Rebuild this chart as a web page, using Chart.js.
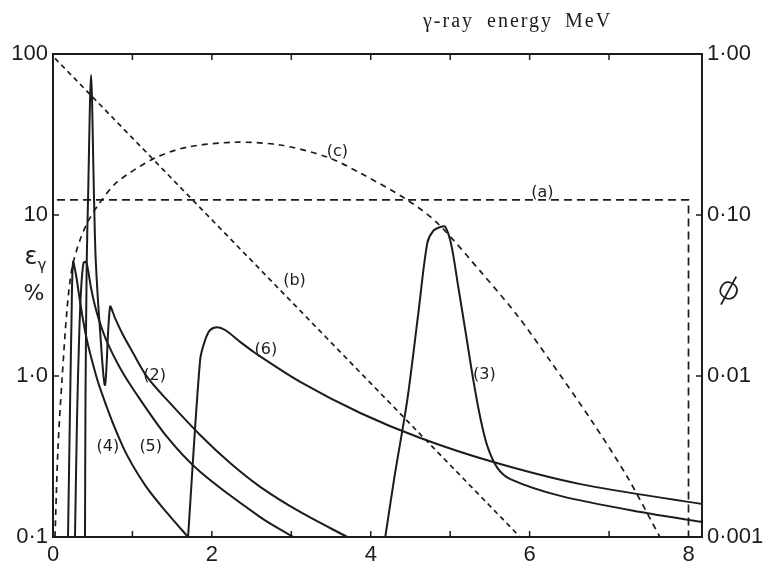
<!DOCTYPE html>
<html><head><meta charset="utf-8">
<script src="https://cdn.jsdelivr.net/npm/chart.js@4.4.1/dist/chart.umd.min.js"></script>
<style>html,body{margin:0;padding:0;background:#fff;}#wrap{width:781px;height:565px;}</style>
</head><body><div id="wrap"><canvas id="c" width="781" height="565"></canvas></div>
<script>
// ---- tick definitions ----
const xTickValues = [0, 2, 4, 6, 8];
const xTickLabels = ['0', '2', '4', '6', '8'];
const xMinorTicks = [1, 2, 3, 4, 5, 6, 7];
const effTickValues = [0.1, 1, 10, 100];
const effTickLabels = ['0·1', '1·0', '10', '100'];
const phiTickValues = [0.001, 0.01, 0.1, 1];
const phiTickLabels = ['0·001', '0·01', '0·10', '1·00'];

// ---- series: energy (MeV) and efficiency (%) ----
const energy2 = [0.403, 0.409, 0.425, 0.441, 0.479, 0.517, 0.538, 0.592, 0.655, 0.718, 0.781, 0.869, 1.008, 1.184, 1.436, 1.852, 2.230, 2.608, 3.112, 3.704];
const eff2    = [0.1, 0.71, 5.25, 12.4, 74, 12.4, 5.25, 1.93, 0.88, 2.69, 2.29, 1.85, 1.39, 0.987, 0.71, 0.43, 0.288, 0.205, 0.143, 0.1];

const energy3 = [4.183, 4.296, 4.460, 4.598, 4.712, 4.787, 4.876, 4.939, 5.014, 5.102, 5.190, 5.291, 5.380, 5.468, 5.594, 5.757, 6.387, 7.395, 8.176];
const eff3    = [0.1, 0.232, 0.71, 2.43, 6.7, 7.96, 8.42, 8.42, 6.52, 3.57, 1.93, 0.944, 0.548, 0.367, 0.269, 0.229, 0.180, 0.143, 0.124];

const energy4 = [0.189, 0.214, 0.233, 0.252, 0.29, 0.328, 0.378, 0.441, 0.592, 0.882, 1.159, 1.436, 1.70];
const eff4    = [0.1, 0.62, 2.23, 5.1, 4.24, 3.18, 2.23, 1.56, 0.84, 0.362, 0.21, 0.141, 0.1];

const energy5 = [0.277, 0.302, 0.328, 0.353, 0.384, 0.416, 0.441, 0.479, 0.529, 0.592, 0.680, 0.844, 1.008, 1.436, 1.852, 2.608, 3.024];
const eff5    = [0.1, 0.533, 1.67, 3.42, 5.04, 5.11, 4.55, 3.52, 2.72, 2.13, 1.63, 1.12, 0.83, 0.418, 0.254, 0.133, 0.1];

const energy6 = [1.70, 1.852, 1.915, 1.978, 2.066, 2.167, 2.356, 2.545, 3.112, 3.868, 4.624, 5.543, 6.639, 8.176];
const eff6    = [0.1, 1.26, 1.67, 1.93, 2.01, 1.93, 1.63, 1.39, 0.92, 0.589, 0.412, 0.292, 0.213, 0.160];

const energyA = [0.05, 8.0, 8.0];
const effA    = [12.4, 12.4, 0.1];

const energyB = [0.025, 5.88];
const effB    = [94, 0.1];

const energyC = [0.025, 0.063, 0.113, 0.176, 0.24, 0.34, 0.44, 0.567, 0.806, 1.285, 1.69, 2.29, 2.86, 3.45, 3.87, 4.46, 4.84, 5.42, 5.85, 6.26, 6.80, 7.23, 7.64];
const effC    = [0.1, 0.36, 0.94, 2.57, 4.7, 7.0, 9.1, 11.5, 16.0, 22.6, 26.4, 28.3, 27.2, 22.9, 18.2, 12.4, 8.9, 4.24, 2.36, 1.24, 0.51, 0.236, 0.1];

// ---- curve label anchors (data units) ----
const labelTexts  = ['(a)', '(b)', '(c)', '(2)', '(3)', '(4)', '(5)', '(6)'];
const labelEnergy = [6.16, 3.04, 3.58, 1.28, 5.43, 0.69, 1.23, 2.68];
const labelEff    = [13.7, 3.89, 24.6, 1.0, 1.01, 0.362, 0.362, 1.45];

const ink = '#1c1c1c';
const pts = (xs, ys) => xs.map((v, i) => ({x: v, y: ys[i]}));

function solid(xs, ys) {
  return {data: pts(xs, ys), borderColor: ink, borderWidth: 2, pointRadius: 0,
          tension: 0.3, fill: false};
}
function dashed(xs, ys, dash, tension) {
  return {data: pts(xs, ys), borderColor: ink, borderWidth: 1.7, pointRadius: 0,
          borderDash: dash, fill: false, tension: tension};
}

const decor = {
  id: 'decor',
  afterDraw(chart) {
    const {ctx, chartArea: a, scales: {x, y, y2}} = chart;
    ctx.save();
    ctx.strokeStyle = ink;
    ctx.lineWidth = 2;
    ctx.strokeRect(a.left, a.top, a.right - a.left, a.bottom - a.top);
    ctx.lineWidth = 1.5;
    ctx.beginPath();
    xMinorTicks.forEach(v => {
      const px = x.getPixelForValue(v);
      ctx.moveTo(px, a.bottom); ctx.lineTo(px, a.bottom - 6);
      ctx.moveTo(px, a.top); ctx.lineTo(px, a.top + 6);
    });
    effTickValues.forEach(v => {
      const py = y.getPixelForValue(v);
      ctx.moveTo(a.left, py); ctx.lineTo(a.left + 6, py);
    });
    phiTickValues.forEach(v => {
      const py = y2.getPixelForValue(v);
      ctx.moveTo(a.right, py); ctx.lineTo(a.right - 6, py);
    });
    ctx.stroke();

    ctx.fillStyle = ink;
    ctx.font = '16px "DejaVu Sans"';
    ctx.textAlign = 'center';
    ctx.textBaseline = 'middle';
    labelTexts.forEach((t, i) => {
      ctx.fillText(t, x.getPixelForValue(labelEnergy[i]), y.getPixelForValue(labelEff[i]));
    });

    // axis titles
    ctx.font = '20px "Liberation Serif"';
    ctx.textAlign = 'left';
    ctx.textBaseline = 'alphabetic';
    ctx.letterSpacing = '2px';
    ctx.fillText('γ-ray', 423, 27);
    ctx.fillText('energy', 487, 27);
    ctx.fillText('MeV', 565, 27);
    ctx.letterSpacing = '0px';

    ctx.font = '24px "DejaVu Sans"';
    ctx.textAlign = 'center';
    ctx.textBaseline = 'middle';
    ctx.fillText('ε', 31, 258);
    ctx.font = '15px "DejaVu Sans"';
    ctx.fillText('γ', 42, 266);
    ctx.font = '22px "DejaVu Sans"';
    ctx.fillText('%', 34, 294);

    ctx.save();
    ctx.translate(729, 290);
    ctx.rotate(0.5);
    ctx.font = '300 32px "Noto Sans"';
    ctx.fillText('ϕ', 0, 0);
    ctx.restore();
    ctx.restore();
  }
};

const tickFont = {family: '"Liberation Sans"', size: 22};

new Chart(document.getElementById('c'), {
  type: 'line',
  data: {
    datasets: [
      solid(energy2, eff2),
      solid(energy3, eff3),
      solid(energy4, eff4),
      solid(energy5, eff5),
      solid(energy6, eff6),
      dashed(energyA, effA, [8, 5], 0),
      dashed(energyB, effB, [5, 4], 0),
      dashed(energyC, effC, [6, 5], 0.3)
    ]
  },
  options: {
    responsive: false,
    animation: false,
    layout: {padding: {top: 54, left: 0, right: 0, bottom: 0}},
    plugins: {legend: {display: false}, tooltip: {enabled: false}, title: {display: false}},
    scales: {
      x: {
        type: 'linear', position: 'bottom', min: 0, max: 8.17,
        grid: {display: false, drawTicks: false}, border: {display: false},
        ticks: {color: ink, font: tickFont, padding: 5, autoSkip: false, maxRotation: 0,
                callback: (v, i) => xTickLabels[i]},
        afterBuildTicks: s => { s.ticks = xTickValues.map(v => ({value: v})); },
        afterFit: s => { s.height = 28; }
      },
      y: {
        type: 'logarithmic', position: 'left', min: 0.1, max: 100,
        grid: {display: false, drawTicks: false}, border: {display: false},
        ticks: {color: ink, font: tickFont, padding: 5, autoSkip: false,
                callback: (v, i) => effTickLabels[i]},
        afterBuildTicks: s => { s.ticks = effTickValues.map(v => ({value: v})); },
        afterFit: s => { s.width = 53; }
      },
      y2: {
        type: 'logarithmic', position: 'right', min: 0.001, max: 1,
        grid: {display: false, drawTicks: false}, border: {display: false},
        ticks: {color: ink, font: tickFont, padding: 5, autoSkip: false,
                callback: (v, i) => phiTickLabels[i]},
        afterBuildTicks: s => { s.ticks = phiTickValues.map(v => ({value: v})); },
        afterFit: s => { s.width = 79; }
      }
    }
  },
  plugins: [decor]
});
</script>
</body></html>
